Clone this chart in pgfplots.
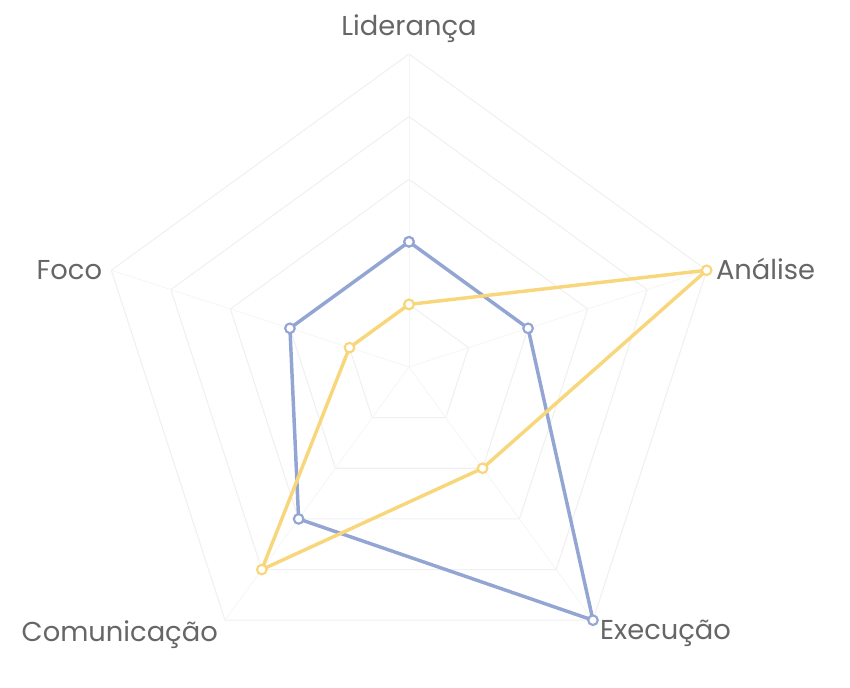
\documentclass[border=0pt]{standalone}
\usepackage{pgfplots}
\pgfplotsset{compat=1.18}
\usepackage{fontspec}
\setmainfont{Poppins}
\usetikzlibrary{calc}

\definecolor{serA}{HTML}{93A5D3}
\definecolor{serB}{HTML}{F8D77C}
\definecolor{gridc}{HTML}{F0F0F2}
\definecolor{labc}{HTML}{666666}

\begin{document}
\begin{tikzpicture}
  \begin{axis}[
      x=46.95pt, y=46.95pt,
      xmin=-5.5, xmax=5.5, ymin=-5.5, ymax=5.5,
      hide axis, clip=false,
      every axis plot/.append style={data cs=polar},
    ]
    % pentagon grid (levels 1..5)
    \pgfplotsinvokeforeach{1,2,3,4,5}{
      \addplot[gridc, line width=0.8pt, no marks] coordinates {
        (90,#1) (18,#1) (-54,#1) (-126,#1) (162,#1) (90,#1)};
    }
    % spokes
    \pgfplotsinvokeforeach{90,18,-54,-126,162}{
      \addplot[gridc!70!white, line width=0.6pt, no marks] coordinates {(#1,0) (#1,5)};
    }
    % series 1
    \addplot[serA, line width=2.6pt, mark=*, mark size=3.6pt,
      mark options={fill=white, draw=serA, line width=1.6pt}] coordinates {
      (90,2) (18,2) (-54,5) (-126,3) (162,2) (90,2)};
    % series 2
    \addplot[serB, line width=2.6pt, mark=*, mark size=3.6pt,
      mark options={fill=white, draw=serB, line width=1.6pt}] coordinates {
      (90,1) (18,5) (-54,2) (-126,4) (162,1) (90,1)};

    \coordinate (O) at (axis cs:0,0);
    \begin{scope}[every node/.style={font=\fontsize{20.5}{22}\selectfont, text=labc, inner sep=0pt}]
      \node[anchor=base] at (axis cs:0,5.29) {Liderança};
      \node[anchor=base west] at (axis cs:4.90,1.39) {Análise};
      \node[anchor=base west] at (axis cs:3.05,-4.36) {Execução};
      \node[anchor=base east] at (axis cs:-3.05,-4.38) {Comunicação};
      \node[anchor=base east] at (axis cs:-4.90,1.39) {Foco};
    \end{scope}
  \end{axis}
  \pgfresetboundingbox
  \path ($(O)+(-306.75pt,-240.75pt)$) rectangle ($(O)+(330.75pt,275.25pt)$);
\end{tikzpicture}
\end{document}
